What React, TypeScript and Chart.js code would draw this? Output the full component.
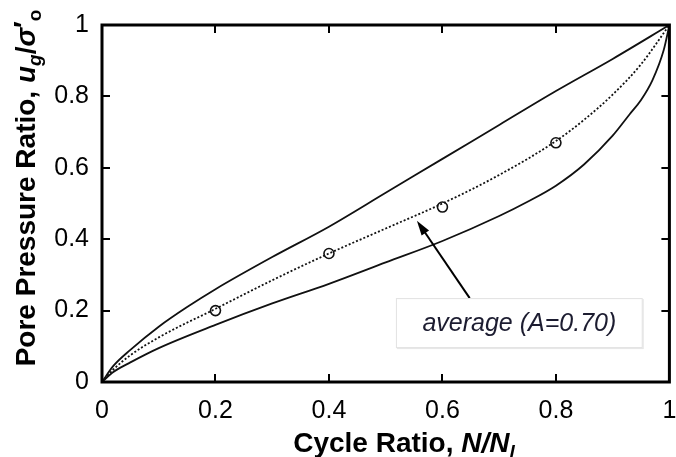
import { useEffect, useRef } from 'react';
import { Chart, registerables } from 'chart.js';

Chart.register(...registerables);

// ---- data ----
const upperX = [0, 0.02, 0.05, 0.1, 0.15, 0.2, 0.3, 0.4, 0.5, 0.6, 0.7, 0.8, 0.9, 1];
const upperY = [0, 0.045, 0.09, 0.155, 0.21, 0.26, 0.35, 0.435, 0.53, 0.625, 0.72, 0.815, 0.905, 1];

const averageX = [0, 0.02, 0.05, 0.1, 0.2, 0.3, 0.4, 0.5, 0.6, 0.7, 0.8, 0.85, 0.9, 0.95, 1];
const averageY = [0, 0.035, 0.075, 0.125, 0.205, 0.285, 0.36, 0.43, 0.5, 0.58, 0.675, 0.735, 0.805, 0.89, 1];

const lowerX = [0, 0.02, 0.05, 0.1, 0.2, 0.3, 0.4, 0.5, 0.6, 0.7, 0.75, 0.8, 0.85, 0.9, 0.93, 0.95, 0.97, 0.99, 1];
const lowerY = [0, 0.028, 0.055, 0.095, 0.16, 0.22, 0.275, 0.335, 0.395, 0.465, 0.505, 0.55, 0.61, 0.69, 0.75, 0.79, 0.845, 0.93, 1];

const markerX = [0.2, 0.4, 0.6, 0.8];
const markerY = [0.2, 0.36, 0.49, 0.67];

const xTicks = [0, 0.2, 0.4, 0.6, 0.8, 1];
const yTicks = [0, 0.2, 0.4, 0.6, 0.8, 1];

const annotationText = 'average (A=0.70)';

const FONT = '"Liberation Sans", Arial, Helvetica, sans-serif';

const toPoints = (xs: number[], ys: number[]) => xs.map((x, i) => ({ x, y: ys[i] }));

type Seg = { text: string; font: string; dy?: number };

function drawRich(ctx: CanvasRenderingContext2D, segs: Seg[], cx: number, cy: number, rot: number) {
  ctx.save();
  ctx.translate(cx, cy);
  ctx.rotate(rot);
  let total = 0;
  const widths = segs.map((s) => {
    ctx.font = s.font;
    const w = ctx.measureText(s.text).width;
    total += w;
    return w;
  });
  let x = -total / 2;
  ctx.fillStyle = '#000';
  ctx.textBaseline = 'alphabetic';
  ctx.textAlign = 'left';
  segs.forEach((s, i) => {
    ctx.font = s.font;
    ctx.fillText(s.text, x, s.dy || 0);
    x += widths[i];
  });
  ctx.restore();
}

const framePlugin = {
  id: 'frame',
  afterDatasetsDraw(chart: any) {
    const { ctx, chartArea: a, scales } = chart;
    const xs = scales.x;
    const ys = scales.y;
    ctx.save();
    ctx.strokeStyle = '#000';
    ctx.lineWidth = 2;
    const tl = 8;
    xTicks.forEach((v) => {
      const px = Math.round(xs.getPixelForValue(v));
      ctx.beginPath();
      ctx.moveTo(px, a.bottom);
      ctx.lineTo(px, a.bottom - tl);
      ctx.moveTo(px, a.top);
      ctx.lineTo(px, a.top + tl);
      ctx.stroke();
    });
    yTicks.forEach((v) => {
      const py = Math.round(ys.getPixelForValue(v));
      ctx.beginPath();
      ctx.moveTo(a.left, py);
      ctx.lineTo(a.left + tl, py);
      ctx.moveTo(a.right, py);
      ctx.lineTo(a.right - tl, py);
      ctx.stroke();
    });
    ctx.lineWidth = 3;
    ctx.strokeRect(a.left, a.top, a.right - a.left, a.bottom - a.top);
    ctx.restore();
  },
  afterDraw(chart: any) {
    const { ctx, scales } = chart;
    const xs = scales.x;
    const ys = scales.y;

    // annotation arrow
    const tipX = xs.getPixelForValue(0.555);
    const tipY = ys.getPixelForValue(0.452);
    const tailX = xs.getPixelForValue(0.648);
    const tailY = ys.getPixelForValue(0.235);
    const ang = Math.atan2(tipY - tailY, tipX - tailX);
    ctx.save();
    ctx.strokeStyle = '#000';
    ctx.fillStyle = '#000';
    ctx.lineWidth = 2;
    ctx.beginPath();
    ctx.moveTo(tailX, tailY);
    ctx.lineTo(tipX - 8 * Math.cos(ang), tipY - 8 * Math.sin(ang));
    ctx.stroke();
    const hl = 15;
    const hw = 4.5;
    ctx.beginPath();
    ctx.moveTo(tipX, tipY);
    ctx.lineTo(
      tipX - hl * Math.cos(ang) + hw * Math.sin(ang),
      tipY - hl * Math.sin(ang) - hw * Math.cos(ang)
    );
    ctx.lineTo(
      tipX - hl * Math.cos(ang) - hw * Math.sin(ang),
      tipY - hl * Math.sin(ang) + hw * Math.cos(ang)
    );
    ctx.closePath();
    ctx.fill();

    // annotation box
    const bx0 = xs.getPixelForValue(0.518);
    const bx1 = xs.getPixelForValue(0.953);
    const by0 = ys.getPixelForValue(0.235);
    const by1 = ys.getPixelForValue(0.095);
    ctx.fillStyle = '#e6e6e6';
    ctx.fillRect(bx0 + 1, by0 + 1, bx1 - bx0, by1 - by0);
    ctx.fillStyle = '#fff';
    ctx.fillRect(bx0, by0, bx1 - bx0, by1 - by0);
    ctx.strokeStyle = '#e2e2e2';
    ctx.lineWidth = 1;
    ctx.strokeRect(bx0 + 0.5, by0 + 0.5, bx1 - bx0 - 1, by1 - by0 - 1);
    ctx.fillStyle = '#1c1c30';
    ctx.font = 'italic 25px ' + FONT;
    ctx.textAlign = 'center';
    ctx.textBaseline = 'middle';
    ctx.fillText(annotationText, (bx0 + bx1) / 2, (by0 + by1) / 2 + 1);
    ctx.restore();

    // axis titles with rich text
    const B = 'bold 28px ' + FONT;
    const BI = 'italic bold 28px ' + FONT;
    const BIs = 'italic bold 19px ' + FONT;
    const Bs = 'bold 19px ' + FONT;
    drawRich(
      ctx,
      [
        { text: 'Cycle Ratio, ', font: B },
        { text: 'N/N', font: BI },
        { text: 'l', font: BIs, dy: 6 },
      ],
      404,
      452,
      0
    );
    drawRich(
      ctx,
      [
        { text: 'Pore Pressure Ratio, ', font: B },
        { text: 'u', font: BI },
        { text: 'g', font: BIs, dy: 6 },
        { text: '/', font: B },
        { text: 'σ', font: BI },
        { text: '\u2032', font: B, dy: -2 },
        { text: 'o', font: Bs, dy: 6 },
      ],
      35,
      188,
      -Math.PI / 2
    );
  },
};

export default function App() {
  const ref = useRef<HTMLCanvasElement>(null);

  useEffect(() => {
    if (!ref.current) return;
    const chart = new Chart(ref.current, {
      type: 'scatter',
      data: {
        datasets: [
          {
            label: 'upper',
            data: toPoints(upperX, upperY),
            showLine: true,
            borderColor: '#111',
            borderWidth: 1.8,
            pointRadius: 0,
            cubicInterpolationMode: 'monotone',
          },
          {
            label: 'lower',
            data: toPoints(lowerX, lowerY),
            showLine: true,
            borderColor: '#111',
            borderWidth: 1.8,
            pointRadius: 0,
            cubicInterpolationMode: 'monotone',
          },
          {
            label: 'average',
            data: toPoints(averageX, averageY),
            showLine: true,
            borderColor: '#111',
            borderWidth: 1.8,
            borderDash: [2, 2],
            pointRadius: 0,
            cubicInterpolationMode: 'monotone',
          },
          {
            label: 'data',
            data: toPoints(markerX, markerY),
            showLine: false,
            pointRadius: 5,
            pointBorderWidth: 1.6,
            pointBorderColor: '#111',
            pointBackgroundColor: '#fff',
          },
        ] as any,
      },
      options: {
        animation: false,
        responsive: false,
        events: [],
        layout: { padding: { top: 25, right: 0, left: 0, bottom: 0 } },
        plugins: {
          legend: { display: false },
          tooltip: { enabled: false },
        },
        scales: {
          x: {
            type: 'linear',
            min: 0,
            max: 1,
            grid: { display: false },
            border: { display: false },
            afterBuildTicks: (s: any) => {
              s.ticks = xTicks.map((v) => ({ value: v }));
            },
            afterFit: (s: any) => {
              s.height = 75;
              s.paddingLeft = 0;
              s.paddingRight = 0;
            },
            ticks: {
              color: '#000',
              padding: 6,
              maxRotation: 0,
              autoSkip: false,
              font: { family: FONT, size: 25 },
              callback: (v: any) => String(Number(Number(v).toFixed(1))),
            },
          },
          y: {
            type: 'linear',
            min: 0,
            max: 1,
            grid: { display: false },
            border: { display: false },
            afterBuildTicks: (s: any) => {
              s.ticks = yTicks.map((v) => ({ value: v }));
            },
            afterFit: (s: any) => {
              s.width = 102;
              s.paddingTop = 0;
              s.paddingBottom = 0;
            },
            ticks: {
              color: '#000',
              padding: 5,
              autoSkip: false,
              font: { family: FONT, size: 25 },
              callback: (v: any) => String(Number(Number(v).toFixed(1))),
            },
          },
        },
      },
      plugins: [framePlugin],
    });
    return () => chart.destroy();
  }, []);

  return (
    <div style={{ position: 'absolute', left: 0, top: 0, width: 676, height: 457, background: '#fff' }}>
      <canvas ref={ref} width={676} height={457} style={{ display: 'block', width: 676, height: 457 }} />
    </div>
  );
}
